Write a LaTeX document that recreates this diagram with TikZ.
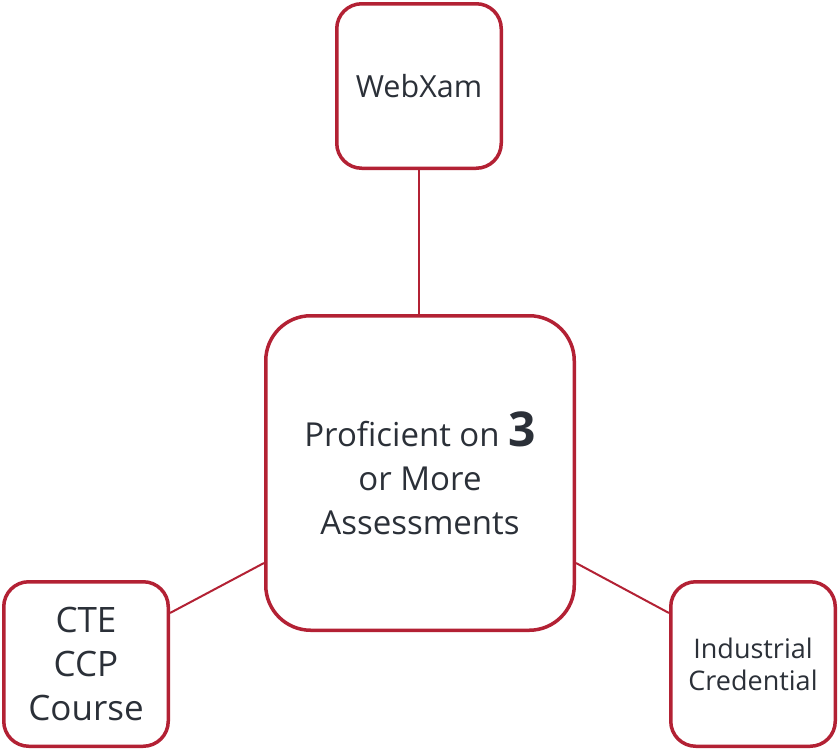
\documentclass[tikz,border=0pt]{standalone}
\usepackage{fontspec}
\setmainfont{Open Sans}
\definecolor{bred}{HTML}{B32134}
\definecolor{txt}{HTML}{2B3038}
\begin{document}
\begin{tikzpicture}[x=1pt,y=-1pt,
  box/.style={draw=bred, line width=3.5pt, fill=white, text=txt, align=center, inner sep=0pt},
  small/.style={box, rounded corners=25pt, minimum width=164.5pt, minimum height=164.5pt},
  link/.style={draw=bred, line width=2pt}]
\useasboundingbox[fill=white] (0,0) rectangle (840,750);
\node[box, rounded corners=45pt, minimum width=308.5pt, minimum height=314.5pt,
  font=\fontsize{33}{44}\selectfont] (center) at (420,473)
  {Proficient on {\fontsize{48}{44}\selectfont\bfseries 3}\\or More\\Assessments};
\node[small, font=\fontsize{30.5}{40}\selectfont] (web) at (419,86) {WebXam};
\node[small, font=\fontsize{35}{44}\selectfont] (cte) at (86,664) {CTE\\CCP\\Course};
\node[small, font=\fontsize{27}{32}\selectfont] (ind) at (753,664) {Industrial\\Credential};
\draw[link] (web.south) -- (web.south |- center.north);
\draw[link] (cte.east |- 0,613) -- (center.west |- 0,563);
\draw[link] (center.east |- 0,563) -- (ind.west |- 0,613);
\end{tikzpicture}
\end{document}
